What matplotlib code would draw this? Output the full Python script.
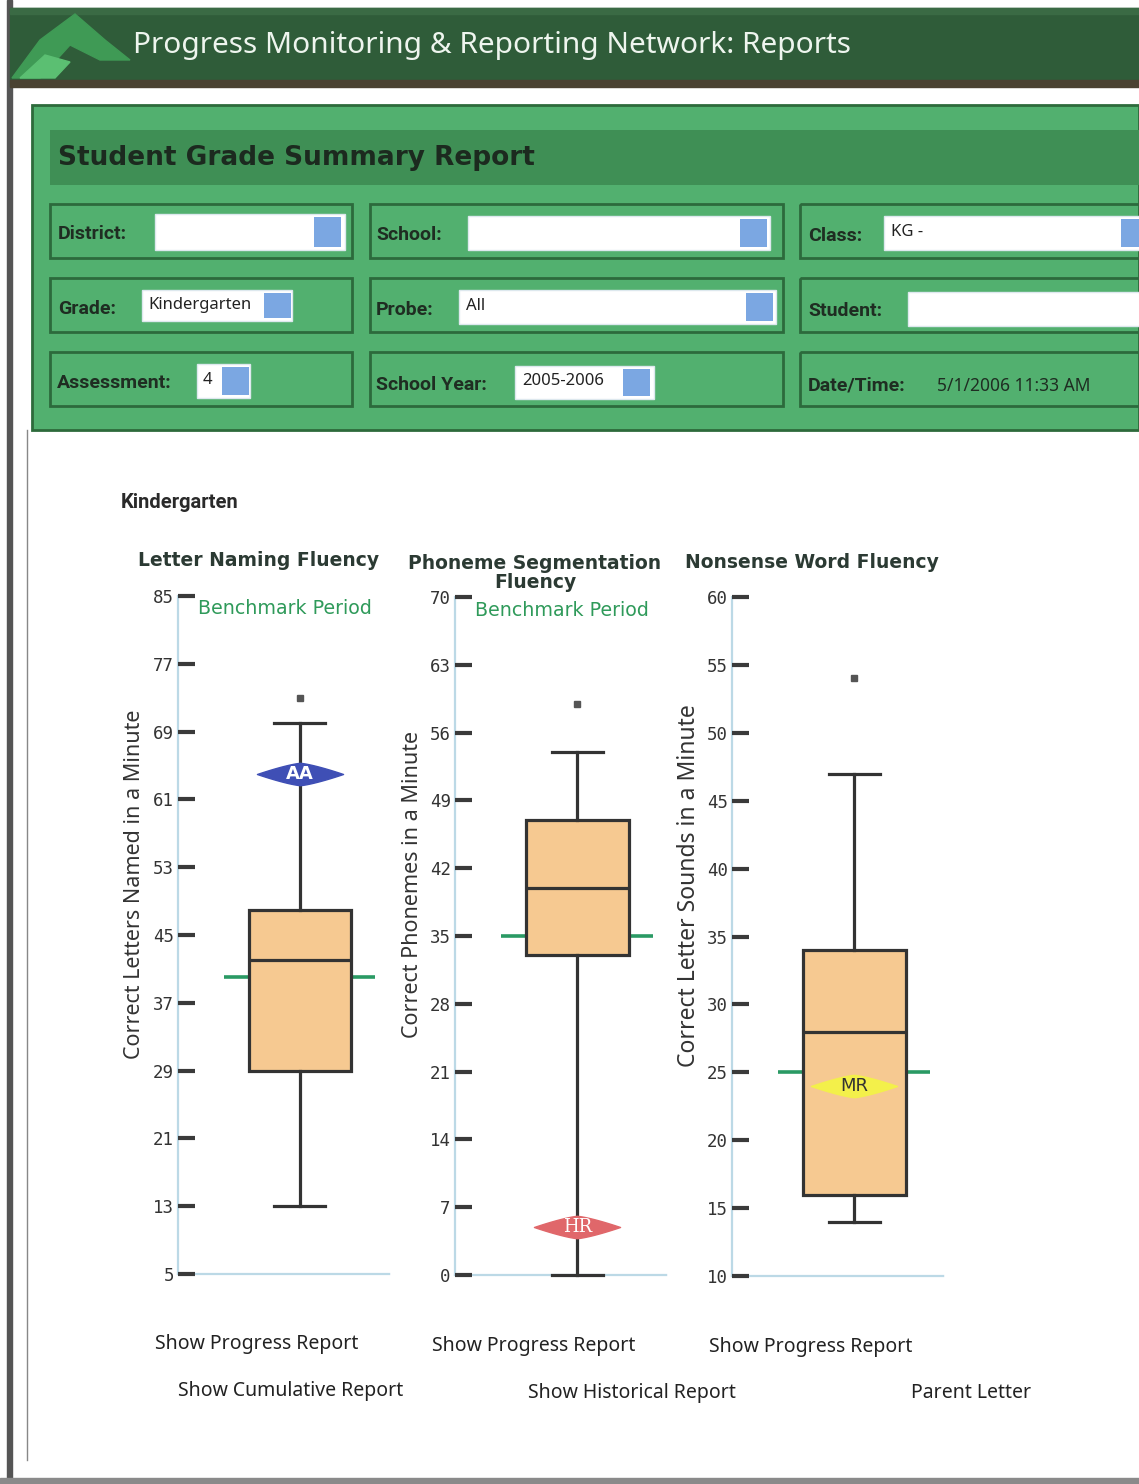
import matplotlib
matplotlib.use("Agg")
import matplotlib.pyplot as plt
import numpy as np
from matplotlib.patches import Rectangle, Polygon
from matplotlib.path import Path
from matplotlib import font_manager

# ---------------- data ----------------
chart_titles = ["Letter Naming Fluency", "Phoneme Segmentation\nFluency", "Nonsense Word Fluency"]
y_labels = ["Correct Letters Named in a Minute", "Correct Phonemes in a Minute",
            "Correct Letter Sounds in a Minute"]
lnf_ticks = [5, 13, 21, 29, 37, 45, 53, 61, 69, 77, 85]
psf_ticks = [0, 7, 14, 21, 28, 35, 42, 49, 56, 63, 70]
nwf_ticks = [10, 15, 20, 25, 30, 35, 40, 45, 50, 55, 60]
# box stats: whislo, q1, med, q3, whishi
lnf_box = [13, 29, 42, 48, 70]
psf_box = [0, 33, 40, 47, 54]
nwf_box = [14, 16, 28, 34, 47]
lnf_outliers = [73]
psf_outliers = [59]
nwf_outliers = [54]
benchmarks = [40, 35, 25]
student_marks = [64, 5, 24]
student_codes = ["AA", "HR", "MR"]
show_benchmark_label = [True, True, False]

names = {f.name for f in font_manager.fontManager.ttflist}
NARROW = "Liberation Sans Narrow" if "Liberation Sans Narrow" in names else "Noto Sans"
BOLDF = "Roboto" if "Roboto" in names else "DejaVu Sans"

W, H = 1139, 1484
fig = plt.figure(figsize=(W / 100, H / 100), dpi=100)
fig.patch.set_facecolor("white")
bg = fig.add_axes([0, 0, 1, 1])
bg.set_xlim(0, W)
bg.set_ylim(H, 0)
bg.axis("off")

def rect(x0, y0, x1, y1, **kw):
    bg.add_patch(Rectangle((x0, y0), x1 - x0, y1 - y0, **kw))

# page borders
rect(7, 0, 12, H, color="#555555", zorder=1)
rect(0, 1478, W, 1484, color="#8a8a8a", zorder=1)
bg.plot([27, 27], [430, 1460], color="#888888", lw=1, zorder=1)

# header band
rect(10, 8, W, 86, color="#2f5c39", zorder=1)
rect(10, 80, W, 87, color="#4a4232", zorder=2)
rect(10, 8, W, 14, color="#3a6a44", zorder=2)
bg.add_patch(Polygon([[12, 78], [40, 40], [75, 14], [105, 40], [130, 60], [100, 60], [70, 45], [40, 78]],
                     closed=True, color="#3f9a55", zorder=2))
bg.add_patch(Polygon([[20, 78], [45, 55], [70, 62], [55, 78]], closed=True, color="#5bbf72", zorder=2))
bg.text(133, 46, "Progress Monitoring & Reporting Network: Reports", color="#eef5ee",
        fontsize=21.5, family=NARROW, va="center", ha="left", zorder=3)

# green form panel
rect(32, 105, W, 430, facecolor="#52b06f", edgecolor="#2d6a3b", lw=2, zorder=1)
rect(50, 130, W, 185, facecolor="#3f8f55", edgecolor="none", zorder=2)
bg.text(58, 158, "Student Grade Summary Report", color="#1c2a1f", fontsize=19,
        fontweight="bold", family="DejaVu Sans", va="center", ha="left", zorder=3)

rows = [(204, 258), (278, 332), (352, 406)]
cols = [(50, 352), (370, 783), (800, W + 5)]
for (ya, yb) in rows:
    for (xa, xb) in cols:
        rect(xa, ya, xb, yb, facecolor="none", edgecolor="#2c6a3c", lw=2, zorder=3)

labels = [("District:", 58, 234), ("School:", 376, 235), ("Class:", 808, 236),
          ("Grade:", 58, 309), ("Probe:", 376, 310), ("Student:", 808, 311),
          ("Assessment:", 57, 383), ("School Year:", 376, 385), ("Date/Time:", 808, 386)]
for t, x, y in labels:
    bg.text(x, y, t, fontsize=14, fontweight="bold", color="#1f2d22", va="center",
            ha="left", family=BOLDF, zorder=4)

inputs = [(155, 214, 345, 250, 314), (468, 216, 770, 250, 740), (884, 216, W + 5, 250, 1121),
          (142, 290, 292, 321, 264), (459, 290, 776, 324, 746), (908, 292, W + 5, 326, None),
          (197, 364, 250, 398, 222), (515, 366, 654, 399, 623)]
for xa, ya, xb, yb, btn in inputs:
    rect(xa, ya, xb, yb, facecolor="white", edgecolor="#dde8ee", lw=1, zorder=4)
    if btn is not None:
        rect(btn, ya + 3, btn + 27, yb - 3, facecolor="#7ba7e2", edgecolor="none", zorder=5)

in_texts = [("KG -", 891, 232), ("Kindergarten", 148, 305), ("All", 466, 306),
            ("4", 203, 380), ("2005-2006", 522, 381)]
for t, x, y in in_texts:
    bg.text(x, y, t, fontsize=12, color="#222222", va="center", ha="left", family=NARROW, zorder=6)
bg.text(937, 386, "5/1/2006 11:33 AM", fontsize=12.5, color="#1f2d22", va="center", ha="left",
        family=NARROW, zorder=4)

bg.text(121, 503, "Kindergarten", fontsize=14.5, fontweight="bold", color="#2a2a2a",
        va="center", ha="left", family=BOLDF)

# ---------------- charts ----------------
axes_px = [(178, 390, 596, 1274), (455, 668, 597, 1275), (732, 945, 597, 1276)]
ticks_all = [lnf_ticks, psf_ticks, nwf_ticks]
boxes = [lnf_box, psf_box, nwf_box]
outliers = [lnf_outliers, psf_outliers, nwf_outliers]
title_px = [(259, 560), (535, 573), (812, 562)]
ylabel_px = [(135, 884), (412, 885), (689, 886)]
ylabel_sizes = [15.5, 15.5, 16.5]
bench_label_px = [(285, 609), (562, 610)]
mark_colors = ["#3f4fb5", "#e0676a", "#f3f04a"]
mark_text_colors = ["white", "white", "#333333"]
mark_fonts = ["DejaVu Sans", "DejaVu Serif", "DejaVu Sans"]
mark_weights = ["bold", "normal", "normal"]

t = np.linspace(-1, 1, 41)
upper = 0.26 * (1 - np.abs(t) ** 1.3)
verts = np.concatenate([np.column_stack([t, upper]), np.column_stack([t[::-1], -upper[::-1]])])
diamond = Path(np.vstack([verts, verts[:1]]), closed=True)

POS = 0.575
for i in range(3):
    x0, x1, yt, yb = axes_px[i]
    ax = fig.add_axes([x0 / W, 1 - yb / H, (x1 - x0) / W, (yb - yt) / H])
    ax.set_facecolor("none")
    tk = ticks_all[i]

    wl, q1, med, q3, wh = boxes[i]
    stats = [dict(whislo=wl, q1=q1, med=med, q3=q3, whishi=wh, fliers=outliers[i])]
    ax.hlines(benchmarks[i], 0.217, 0.93, color="#2a9a64", lw=2.6, zorder=1)
    arts = ax.bxp(stats, positions=[POS], widths=0.48, capwidths=0.24, patch_artist=True,
                  manage_ticks=False,
                  boxprops=dict(facecolor="#f6c991", edgecolor="#333333", lw=2.3),
                  medianprops=dict(color="#333333", lw=2.3),
                  whiskerprops=dict(color="#333333", lw=2.3),
                  capprops=dict(color="#333333", lw=2.3),
                  flierprops=dict(marker="s", markersize=5, markerfacecolor="#555555",
                                  markeredgecolor="#555555"),
                  zorder=2)
    for c in arts["caps"] + arts["whiskers"]:
        c.set_clip_on(False)
    ax.plot([POS], [student_marks[i]], marker=diamond, markersize=62, color=mark_colors[i],
            markeredgecolor=mark_colors[i], linestyle="none", zorder=4, clip_on=False)
    ax.text(POS, student_marks[i], student_codes[i], ha="center", va="center",
            fontsize=13, color=mark_text_colors[i], family=mark_fonts[i],
            fontweight=mark_weights[i], zorder=5)

    ax.set_ylim(tk[0], tk[-1])
    ax.set_xlim(0, 1)
    ax.set_yticks(tk)
    ax.set_yticklabels([str(v) for v in tk], family="DejaVu Sans Mono", fontsize=12.5, color="#333333")
    ax.tick_params(axis="y", direction="in", length=12, width=3, color="#3a3a3a", pad=3)
    ax.set_xticks([])
    for s in ["top", "right"]:
        ax.spines[s].set_visible(False)
    for s in ["left", "bottom"]:
        ax.spines[s].set_color("#bcd9e6")
        ax.spines[s].set_linewidth(1.6)
        ax.spines[s].set_linestyle((0, (3, 1)))
        ax.spines[s].set_zorder(0)

    tx, ty = title_px[i]
    bg.text(tx, ty, chart_titles[i], ha="center", va="center", fontsize=13.5,
            fontweight="bold", color="#2b3a33", family="DejaVu Sans", linespacing=0.95, zorder=6)
    lx, ly = ylabel_px[i]
    bg.text(lx, ly, y_labels[i], rotation=90, ha="center", va="center", fontsize=ylabel_sizes[i],
            color="#333333", family=NARROW)
    if show_benchmark_label[i]:
        bx, by = bench_label_px[i]
        bg.text(bx, by, "Benchmark Period", ha="center", va="center", fontsize=13.7,
                color="#2f9a5a", family="DejaVu Sans", zorder=6)

# links
links = [("Show Progress Report", 257, 1344), ("Show Progress Report", 534, 1346),
         ("Show Progress Report", 811, 1347), ("Show Cumulative Report", 291, 1391),
         ("Show Historical Report", 632, 1393), ("Parent Letter", 971, 1393)]
for txt, x, y in links:
    bg.text(x, y, txt, ha="center", va="center", fontsize=14, color="#222222", family=NARROW)

fig.savefig("out.png", dpi=100)
